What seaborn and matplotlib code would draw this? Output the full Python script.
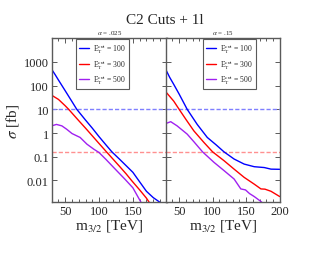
import numpy as np
import pandas as pd
import matplotlib
matplotlib.use("Agg")
import matplotlib.pyplot as plt
from matplotlib.ticker import MultipleLocator, LogLocator, NullFormatter, FixedLocator
import seaborn as sns

# values
cut_labels = [r"E$_{\rm T}^{\rm cut}$ = 100", r"E$_{\rm T}^{\rm cut}$ = 300", r"E$_{\rm T}^{\rm cut}$ = 500"]
line_colors = ["#0000ff", "#ff0000", "#a020f0"]
panel_titles = [r"$\alpha$ = .025", r"$\alpha$ = .15"]

# alpha = .025
m_a1_100 = [30, 35, 40, 50, 60, 67, 80, 90, 100, 110, 119, 130, 140, 150, 158, 170, 180, 190, 195]
s_a1_100 = [480, 290, 170, 60, 21, 10, 3.5, 1.6, 0.7, 0.32, 0.16, 0.08, 0.042, 0.022, 0.0105, 0.0035, 0.0019, 0.0012, 0.0009]
m_a1_300 = [30, 40, 50, 55, 60, 70, 80, 90, 100, 111, 120, 130, 140, 148, 160, 170, 176]
s_a1_300 = [39, 26, 14, 10, 6.9, 3.3, 1.6, 0.76, 0.36, 0.16, 0.083, 0.04, 0.019, 0.01, 0.004, 0.0018, 0.001]
m_a1_500 = [30, 37, 45, 52, 60, 67, 72, 82, 92, 100, 110, 126, 138, 150, 162, 166]
s_a1_500 = [2.0, 2.3, 2.0, 1.45, 0.95, 0.76, 0.65, 0.34, 0.21, 0.15, 0.078, 0.026, 0.0115, 0.0049, 0.0012, 0.0008]

# alpha = .15
m_a2_100 = [30, 36, 42, 50, 62, 77, 92, 105, 117, 132, 147, 162, 177, 187, 200]
s_a2_100 = [480, 220, 112, 44, 10, 2.3, 0.65, 0.32, 0.16, 0.08, 0.049, 0.038, 0.035, 0.030, 0.0295]
m_a2_300 = [30, 42, 50, 60, 72, 87, 100, 117, 132, 147, 162, 172, 178, 187, 200]
s_a2_300 = [55, 22, 10, 3.8, 1.23, 0.4, 0.16, 0.068, 0.030, 0.0135, 0.007, 0.0044, 0.0043, 0.0035, 0.0021]
m_a2_500 = [30, 37.5, 47, 62, 72, 85, 102, 117, 132, 142, 149, 155, 162, 172, 176]
s_a2_500 = [2.5, 3.0, 2.0, 0.9, 0.43, 0.16, 0.058, 0.026, 0.0115, 0.0044, 0.004, 0.0028, 0.0021, 0.0013, 0.001]

# horizontal reference levels
ref_blue = 10
ref_red = 0.165


def make_frame(ms, ss):
    rows = []
    for lab, m, s in zip(cut_labels, ms, ss):
        rows.append(pd.DataFrame({"m": m, "sigma": s, "cut": lab}))
    return pd.concat(rows, ignore_index=True)


panels = [
    make_frame([m_a1_100, m_a1_300, m_a1_500], [s_a1_100, s_a1_300, s_a1_500]),
    make_frame([m_a2_100, m_a2_300, m_a2_500], [s_a2_100, s_a2_300, s_a2_500]),
]

sns.set_theme(style="ticks")
plt.rcParams["font.family"] = ["Liberation Serif", "DejaVu Serif"]
plt.rcParams["mathtext.fontset"] = "stix"

fig = plt.figure(figsize=(3.3, 2.55), dpi=100)
axes = [fig.add_axes([0.1567, 0.2027, 0.3485, 0.644]),
        fig.add_axes([0.5021, 0.2027, 0.3455, 0.644])]

legend_x = [0.44, 0.56]
frame_col = "#5a5a5a"

for i, (ax, df) in enumerate(zip(axes, panels)):
    sns.lineplot(data=df, x="m", y="sigma", hue="cut", palette=line_colors,
                 estimator=None, sort=False, lw=1.0, ax=ax)
    ax.axhline(ref_blue, color="#7f7fff", lw=1.0, ls=(0, (3, 1.5)), zorder=1)
    ax.axhline(ref_red, color="#ff9090", lw=1.0, ls=(0, (3, 1.5)), zorder=1)

    ax.set_yscale("log")
    ax.set_xlim(30, 200)
    ax.set_ylim(0.0012, 10000)
    ax.set_xlabel(r"m$_{\rm 3/2}$ [TeV]", fontsize=11, labelpad=0)
    ax.set_ylabel("")
    ax.set_title(panel_titles[i], fontsize=5, pad=3)

    if i == 0:
        ax.xaxis.set_major_locator(FixedLocator([50, 100, 150]))
    else:
        ax.xaxis.set_major_locator(FixedLocator([50, 100, 150, 200]))
    ax.xaxis.set_minor_locator(MultipleLocator(10))
    ax.yaxis.set_major_locator(FixedLocator([0.01, 0.1, 1, 10, 100, 1000]))
    ax.yaxis.set_minor_locator(LogLocator(base=10, subs=np.arange(2, 10)))
    ax.yaxis.set_minor_formatter(NullFormatter())
    ax.set_yticklabels(["0.01", "0.1", "1", "10", "100", "1000"])

    ax.tick_params(which="both", direction="in", top=True, right=True,
                   color=frame_col, width=0.7, labelsize=9, pad=2)
    ax.tick_params(which="major", length=3.5)
    ax.tick_params(which="minor", length=2)
    if i == 1:
        ax.tick_params(labelleft=False)
    for sp in ax.spines.values():
        sp.set_color(frame_col)
        sp.set_linewidth(1.0)

    leg = ax.legend(loc="upper center", bbox_to_anchor=(legend_x[i], 1.0),
                    fontsize=5.5, frameon=True, fancybox=False, framealpha=1,
                    edgecolor=frame_col, handlelength=1.3, handletextpad=0.6,
                    labelspacing=0.2, borderpad=0.35, borderaxespad=0.1)
    leg.get_frame().set_linewidth(0.8)
    for h in leg.get_lines():
        h.set_linewidth(1.0)

axes[0].set_ylabel(r"$\sigma$ [fb]", fontsize=11, labelpad=2)
fig.text(0.5, 0.92, "C2 Cuts + 1l", ha="center", va="center", fontsize=11)

fig.savefig("out.png", dpi=100)
